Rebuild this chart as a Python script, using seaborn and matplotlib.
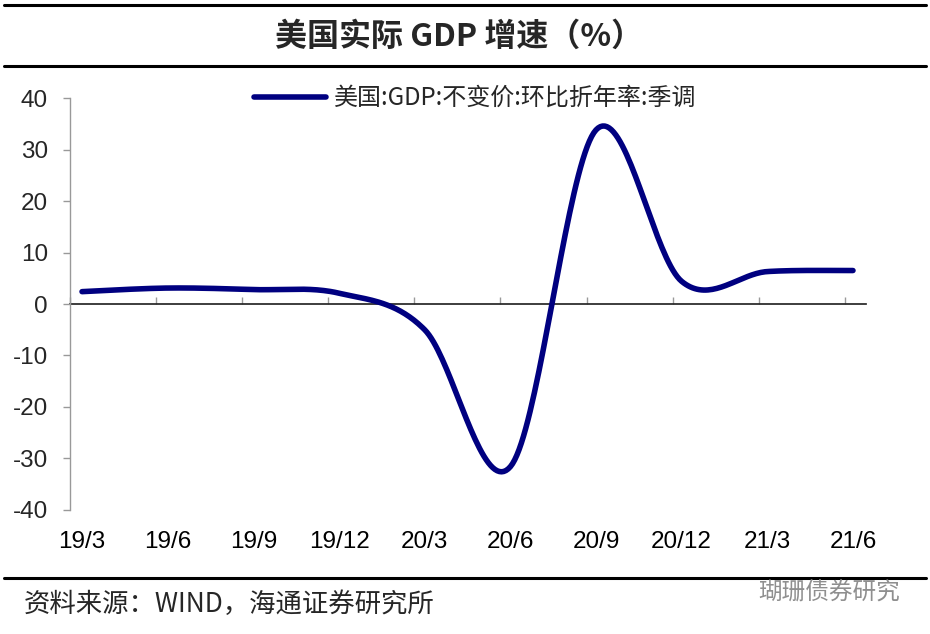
import numpy as np
import pandas as pd
import matplotlib
matplotlib.use("Agg")
import matplotlib.pyplot as plt
import seaborn as sns

quarters = ["19/3", "19/6", "19/9", "19/12", "20/3", "20/6", "20/9", "20/12", "21/3", "21/6"]
gdp_qoq_saar = [2.4, 3.1, 2.8, 2.1, -5.0, -31.6, 33.8, 4.4, 6.3, 6.5]
series_name = "美国:GDP:不变价:环比折年率:季调"

sns.set_theme(style="white")
plt.rcParams["font.family"] = ["Liberation Sans", "Noto Sans CJK SC", "DejaVu Sans"]
plt.rcParams["axes.unicode_minus"] = False
cjk = ["Noto Sans CJK SC", "DejaVu Sans"]

# Excel-style smoothed line (Catmull-Rom as Bezier segments)
def smooth(xs, ys, n=40):
    p = np.column_stack([xs, ys]).astype(float)
    p = np.vstack([p[0], p, p[-1]])
    out = []
    for i in range(1, len(p) - 2):
        p0, p1, p2, p3 = p[i - 1], p[i], p[i + 1], p[i + 2]
        c1 = p1 + (p2 - p0) / 6
        c2 = p2 - (p3 - p1) / 6
        t = np.linspace(0, 1, n)[:, None]
        seg = (1 - t) ** 3 * p1 + 3 * (1 - t) ** 2 * t * c1 + 3 * (1 - t) * t ** 2 * c2 + t ** 3 * p2
        out.append(seg if i == 1 else seg[1:])
    return np.vstack(out)

xpos = np.arange(len(quarters))
curve = smooth(xpos, gdp_qoq_saar)
df = pd.DataFrame({"x": curve[:, 0], "y": curve[:, 1], "s": series_name})

fig = plt.figure(figsize=(9.3, 6.34), dpi=100)
ax = fig.add_axes([0.0753, 0.1956, 0.8557, 0.6498])

sns.lineplot(data=df, x="x", y="y", hue="s", palette=["#000080"], linewidth=4,
             sort=False, ax=ax, solid_capstyle="round")

ax.set_xlim(-0.14, 9.15)
ax.set_ylim(-40, 40)
ax.set_yticks(range(-40, 41, 10))
ax.set_xticks(xpos)
ax.set_xticklabels(quarters)
ax.tick_params(axis="x", length=0, pad=15, labelsize=17.5, colors="black")
ax.tick_params(axis="y", left=True, length=5, width=1, color="#999999", pad=11, labelsize=17.5)
ax.set_xlabel("")
ax.set_ylabel("")
for side in ["top", "right", "bottom"]:
    ax.spines[side].set_visible(False)
ax.spines["left"].set_color("#999999")
ax.spines["left"].set_linewidth(1)

# zero axis with category boundary ticks
sec = ax.secondary_xaxis(0.5)
sec.set_xticks(xpos - 0.14 + 0.005 * xpos)
sec.set_xticklabels([])
sec.tick_params(axis="x", direction="out", length=5, width=1, color="#999999")
sec.spines["bottom"].set_color("#999999")
sec.spines["bottom"].set_linewidth(1.2)

leg = ax.legend(loc="center", bbox_to_anchor=(0.509, 1.0), frameon=False,
                fontsize=17.3, handlelength=3.0, handletextpad=0.3)
for t in leg.get_texts():
    t.set_family(cjk)

# header / footer rules
fig.add_artist(plt.Line2D([0.004, 0.996], [0.992, 0.992], color="black", lw=2.2))
fig.add_artist(plt.Line2D([0.004, 0.996], [0.896, 0.896], color="black", lw=2.2))
fig.add_artist(plt.Line2D([0.004, 0.996], [0.089, 0.089], color="black", lw=2.2))

fig.text(0.494, 0.942, "美国实际 GDP 增速（%）", ha="center", va="center", fontsize=23,
         fontweight="bold", family=cjk)
fig.text(0.026, 0.046, "资料来源：WIND，海通证券研究所", ha="left", va="center", fontsize=19,
         family=cjk)
fig.text(0.968, 0.065, "瑚珊债券研究", ha="right", va="center", fontsize=17, color="#8f8f8f",
         family=cjk)

fig.savefig("out.png", dpi=100)
